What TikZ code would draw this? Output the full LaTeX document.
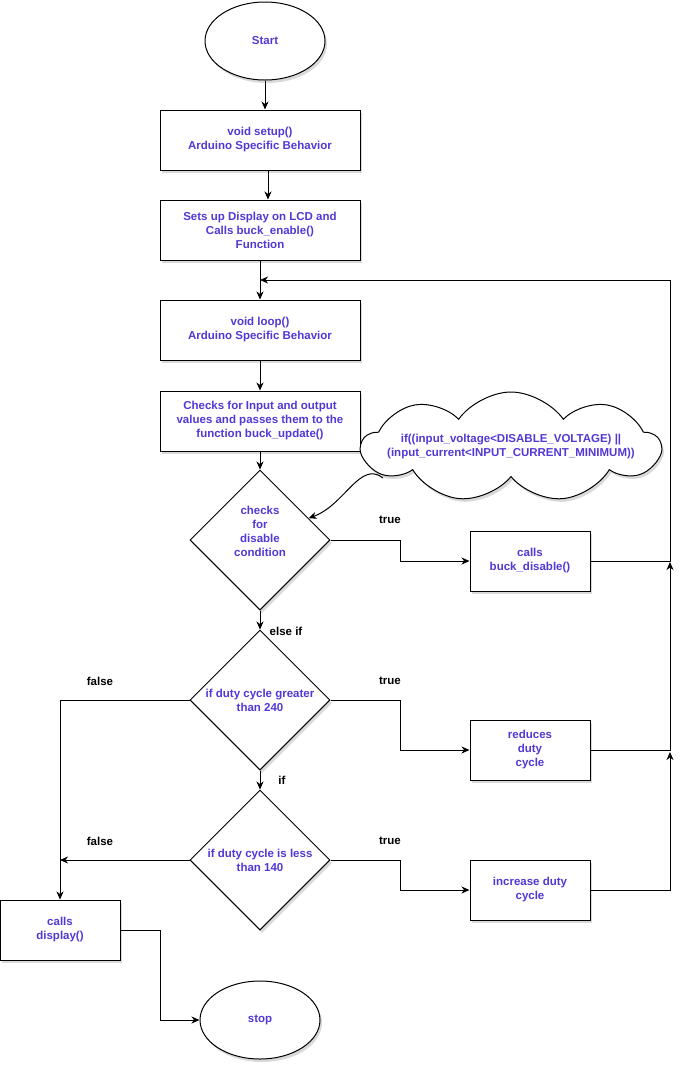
\documentclass[tikz,border=0pt]{standalone}
\usepackage{fontspec}
\setmainfont{Liberation Sans}
\usetikzlibrary{shapes.geometric,shapes.symbols,arrows.meta,shadows,calc}
\definecolor{txtblue}{RGB}{84,56,214}
\begin{document}
\begin{tikzpicture}[x=1pt,y=-1pt,
  font=\fontsize{11.5}{14}\selectfont\bfseries,
  shd/.style={drop shadow={shadow xshift=2pt, shadow yshift=-3pt, opacity=0.15, fill=black}},
  box/.style={draw, line width=1pt, fill=white, minimum width=200pt, minimum height=60pt,
              align=center, text=txtblue, inner sep=0pt, shd},
  sbox/.style={box, minimum width=120pt},
  dec/.style={diamond, draw, line width=1pt, fill=white, minimum width=140pt, minimum height=140pt,
              aspect=1, inner sep=0pt, align=center, text=txtblue, shd},
  term/.style={ellipse, draw, line width=1pt, fill=white, minimum width=120pt, minimum height=78pt,
               text=txtblue, shd},
  lbl/.style={text=black},
  ln/.style={line width=1pt},
  arr/.style={line width=1pt, -{Stealth[length=8pt,width=7pt,inset=2.5pt]}}
]
\useasboundingbox (0,0) rectangle (690,1072);

% nodes
\node[term] (start) at (265,41) {Start};
\node[box] (setup) at (260,140) {void setup()\\Arduino Specific Behavior};
\node[box] (setsup) at (260,230) {Sets up Display on LCD and\\Calls buck\_enable()\\Function};
\node[box] (loop) at (260,330) {void loop()\\Arduino Specific Behavior};
\node[box] (check) at (260,421) {Checks for Input and output\\values and passes them to the\\function buck\_update()};
\node[cloud, cloud puffs=9, cloud puff arc=110, cloud ignores aspect, draw, line width=1pt, fill=white,
      minimum width=298pt, minimum height=110pt, inner sep=0pt, shd,
      label={[text=txtblue, align=center]center:if((input\_voltage<DISABLE\_VOLTAGE) ||\\(input\_current<INPUT\_CURRENT\_MINIMUM))}]
      (cloud) at (511,447) {};
\node[dec, text depth=17pt] (d1) at (260,540) {checks\\for\\disable\\condition};
\node[sbox] (bd) at (530,561) {calls\\buck\_disable()};
\node[dec] (d2) at (260,700) {if duty cycle greater\\than 240};
\node[sbox] (rd) at (530,750) {reduces\\duty\\cycle};
\node[dec] (d3) at (260,860) {if duty cycle is less\\than 140};
\node[sbox] (inc) at (530,890) {increase duty\\cycle};
\node[sbox] (disp) at (60,930) {calls\\display()};
\node[term] (stop) at (260,1020) {stop};

% labels
\node[lbl] (t1) at (390,520) {true};
\node[lbl] (t2) at (390,681) {true};
\node[lbl] (t3) at (390,841) {true};
\node[lbl] (f2) at (100,681) {false};
\node[lbl] (f3) at (100,841) {false};
\node[lbl] (elif) at (286,631) {else if};
\node[lbl] (ifl) at (282,780) {if};

% helper coordinates
\coordinate (jr0) at (670,280);
\coordinate (jr1) at (670,562);
\coordinate (jr2) at (670,752);
\coordinate (cs) at (383,478);

% connectors
\draw[arr] (start.south) -- (start.south |- setup.north);
\draw[arr] ($(setup.south)+(8,0)$) -- ($(setsup.north)+(8,0)$);
\draw[arr] (setsup.south) -- (loop.north);
\draw[arr] (loop.south) -- (check.north);
\draw[arr] (check.south) -- (d1.north);
\draw[arr] (d1.south) -- (d2.north);
\draw[arr] (d2.south) -- (d3.north);
\draw[arr] (d1.east) -- ++(70,0) |- (bd.west);
\draw[arr] (d2.east) -- ++(70,0) |- (rd.west);
\draw[arr] (d3.east) -- ++(70,0) |- (inc.west);
\draw[arr] (bd.east) -| (jr0) -- (loop.north |- jr0);
\draw[arr] (rd.east) -| (jr1);
\draw[arr] (inc.east) -| (jr2);
\draw[arr] (d2.west) -| (disp.north);
\draw[arr] (d3.west) -- (disp.north |- d3.west);
\draw[arr] (disp.east) -- ++(40,0) |- (stop.west);
\draw[arr] (cs) .. controls (360,460) and (345,505) .. ($(d1.north)!0.69!(d1.east)$);
\end{tikzpicture}
\end{document}
